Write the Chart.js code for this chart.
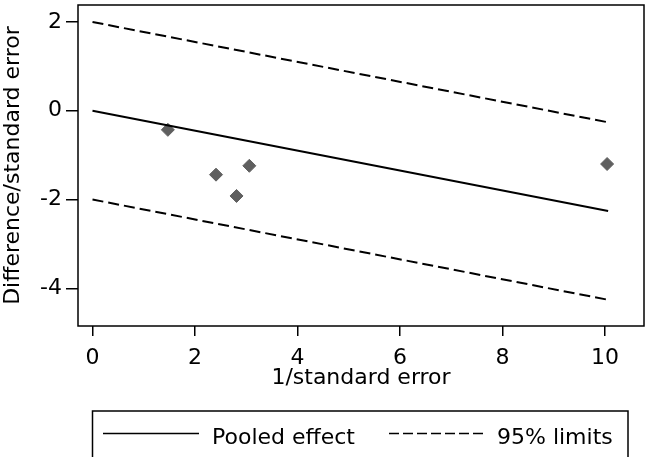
<!DOCTYPE html>
<html>
<head>
<meta charset="utf-8">
<script src="https://cdn.jsdelivr.net/npm/chart.js@4/dist/chart.umd.min.js"></script>
<style>
html,body{margin:0;padding:0;background:#fff;}
#wrap{width:645px;height:457px;}
</style>
</head>
<body>
<div id="wrap"><canvas id="c" width="645" height="457"></canvas></div>
<script>
// Data (Galbraith plot)
const xTicks = [0, 2, 4, 6, 8, 10];
const yTicks = [-4, -2, 0, 2];
const studyX = [1.47, 2.41, 2.81, 3.06, 10.04];
const studyY = [-0.43, -1.44, -1.92, -1.24, -1.20];
const lineX = [0, 10.06];
const pooled = [0, -2.26];
const upper = [2, -0.26];
const lower = [-2, -4.26];
const seriesLabels = ['Pooled effect', '95% limits'];
const xTitle = '1/standard error';
const yTitle = 'Difference/standard error';

const FONT = 'DejaVu Sans';
const toPts = (xs, ys) => xs.map((x, i) => ({x: x, y: ys[i]}));

const boxPlugin = {
  id: 'boxAndLegend',
  afterDraw(chart) {
    const ctx = chart.ctx;
    const a = chart.chartArea;
    ctx.save();
    ctx.strokeStyle = '#000';
    ctx.lineWidth = 1.5;
    ctx.strokeRect(a.left, a.top, a.right - a.left, a.bottom - a.top);
    // legend box
    ctx.strokeRect(92.5, 411, 535.5, 80);
    ctx.lineWidth = 1.5;
    // solid sample
    ctx.beginPath();
    ctx.moveTo(103, 433.5); ctx.lineTo(199, 433.5);
    ctx.stroke();
    // dashed sample
    ctx.setLineDash([10, 4]);
    ctx.beginPath();
    ctx.moveTo(389, 433.5); ctx.lineTo(485, 433.5);
    ctx.stroke();
    ctx.setLineDash([]);
    ctx.fillStyle = '#000';
    ctx.font = '22px "' + FONT + '"';
    ctx.textBaseline = 'alphabetic';
    ctx.textAlign = 'left';
    ctx.fillText(seriesLabels[0], 212, 443.5);
    ctx.fillText(seriesLabels[1], 497, 443.5);
    ctx.restore();
  }
};

new Chart(document.getElementById('c'), {
  type: 'scatter',
  data: {
    datasets: [
      {label: seriesLabels[0], data: toPts(lineX, pooled), showLine: true, borderColor: '#000', borderWidth: 2, pointRadius: 0, fill: false},
      {label: seriesLabels[1], data: toPts(lineX, upper), showLine: true, borderColor: '#000', borderWidth: 2, borderDash: [11, 5], pointRadius: 0, fill: false},
      {label: seriesLabels[1] + ' (lower)', data: toPts(lineX, lower), showLine: true, borderColor: '#000', borderWidth: 2, borderDash: [11, 5], pointRadius: 0, fill: false},
      {label: 'Studies', data: toPts(studyX, studyY), pointStyle: 'rectRot', pointRadius: 6.5, backgroundColor: '#5f5f5f', borderColor: '#5f5f5f', borderWidth: 1}
    ]
  },
  options: {
    responsive: false,
    animation: false,
    layout: {autoPadding: false, padding: {top: 5, right: 1, bottom: 66, left: 0}},
    plugins: {legend: {display: false}, tooltip: {enabled: false}},
    scales: {
      x: {
        type: 'linear', min: -0.283, max: 10.76,
        afterBuildTicks: s => { s.ticks = xTicks.map(v => ({value: v})); },
        afterFit: s => { s.height = 65; s.paddingLeft = 0; s.paddingRight = 0; },
        ticks: {color: '#000', font: {family: FONT, size: 22}, padding: 9, maxRotation: 0, autoSkip: false},
        grid: {drawOnChartArea: false, drawTicks: true, tickLength: 10, color: '#000', lineWidth: 1.5},
        border: {display: false},
        title: {display: true, text: xTitle, color: '#000', font: {family: FONT, size: 22}, padding: 0}
      },
      y: {
        type: 'linear', min: -4.85, max: 2.383,
        afterBuildTicks: s => { s.ticks = yTicks.map(v => ({value: v})); },
        afterFit: s => { s.width = 78; s.paddingTop = 0; s.paddingBottom = 0; },
        ticks: {color: '#000', font: {family: FONT, size: 22}, padding: 4, autoSkip: false},
        grid: {drawOnChartArea: false, drawTicks: true, tickLength: 12, color: '#000', lineWidth: 1.5},
        border: {display: false},
        title: {display: true, text: yTitle, color: '#000', font: {family: FONT, size: 22}, padding: 0}
      }
    }
  },
  plugins: [boxPlugin]
});
</script>
</body>
</html>
